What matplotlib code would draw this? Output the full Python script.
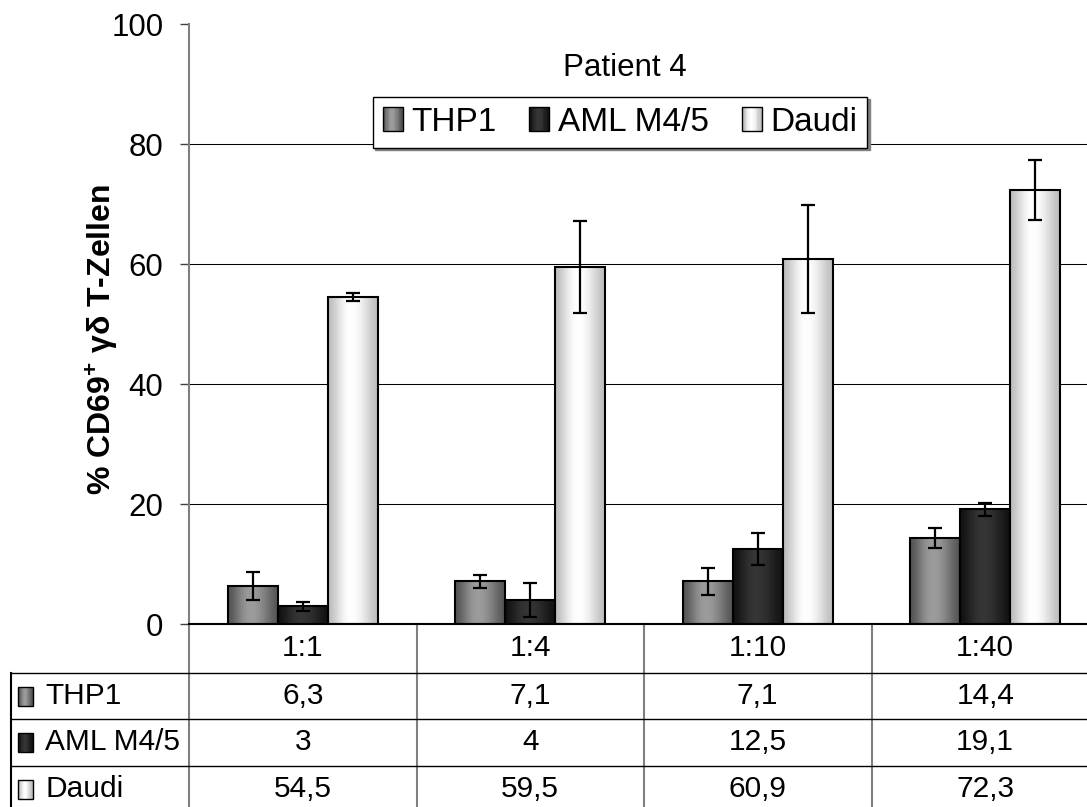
import numpy as np
import matplotlib
matplotlib.use("Agg")
import matplotlib.pyplot as plt
from matplotlib.legend_handler import HandlerBase
from matplotlib.patches import Patch, Rectangle
from matplotlib.transforms import blended_transform_factory

# --- data ---
CATEGORIES = ["1:1", "1:4", "1:10", "1:40"]
SERIES = ["THP1", "AML M4/5", "Daudi"]
THP1 = [6.3, 7.1, 7.1, 14.4]
AML = [3.0, 4.0, 12.5, 19.1]
DAUDI = [54.5, 59.5, 60.9, 72.3]
THP1_ERR = [2.35, 1.05, 2.3, 1.65]
AML_ERR = [0.75, 2.9, 2.6, 1.1]
DAUDI_ERR = [0.7, 7.6, 9.0, 5.0]
Y_TICKS = [0, 20, 40, 60, 80, 100]

# gray shades of the cylinder-like fills: (edge, highlight)
SHADES = [(0.33, 0.61), (0.07, 0.21), (0.74, 1.0)]

plt.rcParams["font.family"] = ["Liberation Sans", "DejaVu Sans"]
plt.rcParams["mathtext.fontset"] = "custom"
plt.rcParams["mathtext.rm"] = "Liberation Sans"
plt.rcParams["mathtext.bf"] = "Liberation Sans:bold"

W, H = 1087, 807
AX_L, AX_R, AX_T, AX_B = 189, 1099, 24, 624
BAR_W = 0.22
TABLE_FS = 21.5


def shade_row(edge, peak, n=64, centre=0.45):
    """Horizontal gray gradient, dark at the edges, light near the centre."""
    t = np.linspace(0, 1, n)
    s = np.where(t < centre, t / centre, (1 - t) / (1 - centre))
    v = edge + (peak - edge) * np.sin(np.pi / 2 * s) ** 1.5
    return np.repeat(v[None, :, None], 3, axis=2)


def stripes(x0, y0, w, h, edge, peak, trans, n=16, **kw):
    """Gradient square built from thin rectangles plus a black outline."""
    row = shade_row(edge, peak, n=n)[0, :, 0]
    arts = [Rectangle((x0 + k * w / n, y0), w / n * 1.05, h, facecolor=(g, g, g),
                      edgecolor="none", antialiased=False, transform=trans, **kw)
            for k, g in enumerate(row)]
    arts.append(Rectangle((x0, y0), w, h, fill=False, edgecolor="black", lw=1,
                          transform=trans, **kw))
    return arts


class GradientKey(HandlerBase):
    def __init__(self, edge, peak):
        super().__init__()
        self.edge, self.peak = edge, peak

    def create_artists(self, legend, orig_handle, xdescent, ydescent,
                       width, height, fontsize, trans):
        return stripes(-xdescent, -ydescent, width, height, self.edge, self.peak, trans)


def fmt(v):
    return f"{v:g}".replace(".", ",")


fig = plt.figure(figsize=(W / 100, H / 100), dpi=100)
ax = fig.add_axes([AX_L / W, 1 - AX_B / H, (AX_R - AX_L) / W, (AX_B - AX_T) / H])

x = np.arange(len(CATEGORIES))
values = [THP1, AML, DAUDI]
errors = [THP1_ERR, AML_ERR, DAUDI_ERR]

for j, (vals, errs, shade) in enumerate(zip(values, errors, SHADES)):
    xs = x + (j - 1) * BAR_W
    bars = ax.bar(xs, vals, BAR_W, facecolor="none", edgecolor="black",
                  lw=1.5, zorder=3)
    for rect in bars:
        x0 = rect.get_x()
        ax.imshow(shade_row(*shade), extent=(x0, x0 + BAR_W, 0, rect.get_height()),
                  aspect="auto", interpolation="bilinear", zorder=2)
    ax.errorbar(xs, vals, yerr=errs, fmt="none", ecolor="black",
                elinewidth=1.6, capsize=5, capthick=1.6, zorder=4)

for yv in Y_TICKS[1:-1]:
    ax.axhline(yv, color="black", lw=0.75, zorder=1)

ax.set_xlim(-0.5, len(CATEGORIES) - 0.5)
ax.set_ylim(0, 100)
ax.set_yticks(Y_TICKS)
ax.set_xticks([])
ax.tick_params(axis="y", labelsize=22.5, length=6.5, width=1, color="#404040", pad=12)
for side in ("top", "right"):
    ax.spines[side].set_visible(False)
ax.spines["left"].set_color("#808080")
ax.spines["left"].set_linewidth(1.5)
ax.spines["bottom"].set_color("black")
ax.spines["bottom"].set_linewidth(1.5)

ax.set_ylabel(r"% CD69$^{\mathbf{+}}$ γδ T-Zellen", fontsize=23,
              fontweight="bold", va="center")
ax.yaxis.set_label_coords((101 - AX_L) / (AX_R - AX_L), (AX_B - 339) / (AX_B - AX_T))

ax.text((625 - AX_L) / (AX_R - AX_L), (AX_B - 68) / (AX_B - AX_T), "Patient 4",
        transform=ax.transAxes, ha="center", va="center", fontsize=22.5)

handles = [Patch(label=s) for s in SERIES]
leg = ax.legend(handles, SERIES,
                handler_map={h: GradientKey(*sh) for h, sh in zip(handles, SHADES)},
                loc="center",
                bbox_to_anchor=((620 - AX_L) / (AX_R - AX_L), (AX_B - 122) / (AX_B - AX_T)),
                ncol=3, fontsize=24, frameon=True, fancybox=False,
                edgecolor="black", framealpha=1,
                shadow={"color": "#808080", "alpha": 1},
                handlelength=0.6, handleheight=0.75, handletextpad=0.25,
                columnspacing=1.0, borderpad=0.3, borderaxespad=0)
leg.get_frame().set_linewidth(1)
leg.set_zorder(5)

# --- data table under the plot ---
col_w = (AX_R - AX_L) / len(CATEGORIES)


def dx(px):
    return -0.5 + (px - AX_L) / col_w


def ay(py):
    return (AX_B - py) / (AX_B - AX_T)


blend = blended_transform_factory(ax.transData, ax.transAxes)
row_px = [624, 673, 719, 766, 812]
rows = [ay(p) for p in row_px]
left = dx(11)

for k in range(len(CATEGORIES) + 1):
    ax.plot([k - 0.5, k - 0.5], [rows[0], rows[-1]], color="#808080", lw=1.5,
            transform=blend, clip_on=False)
for r in rows[1:]:
    ax.plot([left, len(CATEGORIES) - 0.5], [r, r], color="black", lw=1,
            transform=blend, clip_on=False)
ax.plot([left, left], [rows[1], rows[-1]], color="black", lw=1.5,
        transform=blend, clip_on=False)

for i, cat in enumerate(CATEGORIES):
    ax.text(i, (rows[0] + rows[1]) / 2, cat, transform=blend, ha="center",
            va="center", fontsize=TABLE_FS)

key_h = 19 / (AX_B - AX_T)
for j, (name, vals, shade) in enumerate(zip(SERIES, values, SHADES)):
    mid = (rows[j + 1] + rows[j + 2]) / 2
    if j == len(SERIES) - 1:
        mid = ay(789)
    k0, k1 = dx(18), dx(33)
    for art in stripes(k0, mid - key_h / 2, k1 - k0, key_h, *shade, blend, clip_on=False):
        ax.add_patch(art)
    ax.text(dx(45), mid, name, transform=blend, ha="left", va="center", fontsize=TABLE_FS)
    for i, v in enumerate(vals):
        ax.text(i, mid, fmt(v), transform=blend, ha="center", va="center",
                fontsize=TABLE_FS)

fig.savefig("out.png", dpi=100)
